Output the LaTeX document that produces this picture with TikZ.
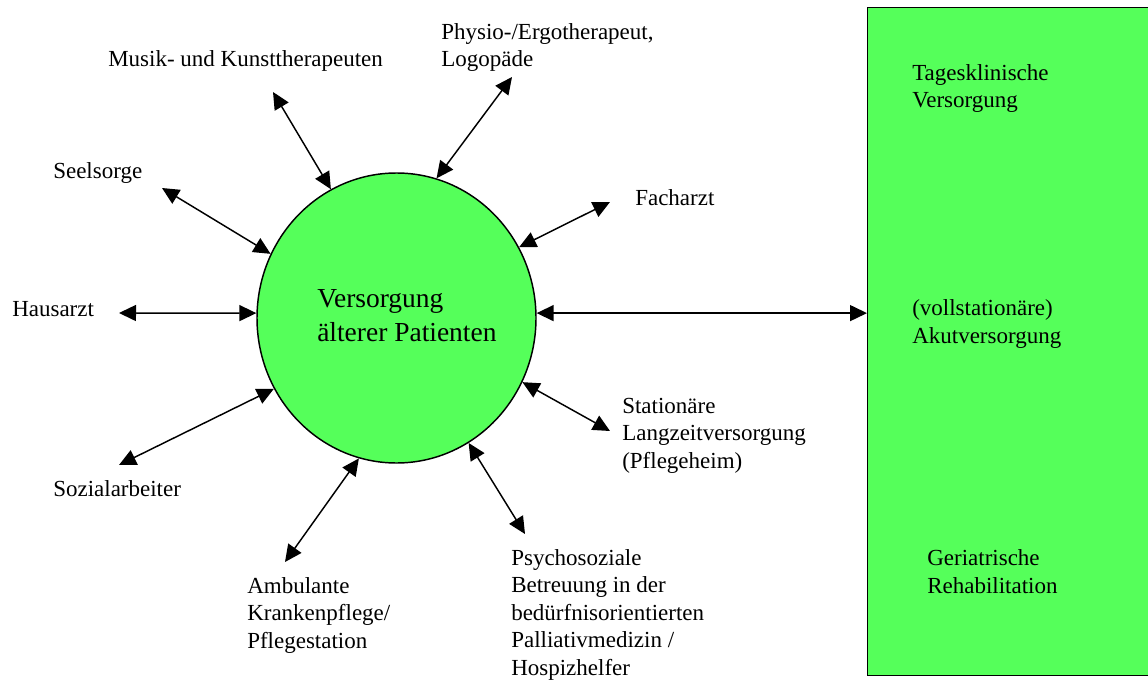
\documentclass[tikz,border=0pt]{standalone}
\usepackage{fontspec}
\setmainfont{Liberation Serif}
\usetikzlibrary{arrows.meta,shapes.geometric}
\definecolor{fillgreen}{RGB}{85,255,90}
\begin{document}
\begin{tikzpicture}[
    x=0.75pt, y=-0.75pt,
    lbl/.style={anchor=base west, inner sep=0pt, align=left, font=\fontsize{17.25}{20.6}\selectfont},
    bigtxt/.style={anchor=base west, inner sep=0pt, align=left, font=\fontsize{20.6}{25.5}\selectfont},
    link/.style={{Triangle[length=12.75pt,width=12pt]}-{Triangle[length=12.75pt,width=12pt]}, line width=1.1pt}
]
    \useasboundingbox (0,0) rectangle (1148,681);

    % Versorgungsbereiche rechts
    \node[draw, fill=fillgreen, line width=1.1pt, inner sep=0pt, anchor=north west,
          minimum width=219.75pt, minimum height=501pt] (klinik) at (867,7) {};
    \node[lbl] (tages) at (912,108) {Tagesklinische\\Versorgung};
    \node[lbl] (akut) at (912,343) {(vollstationäre)\\Akutversorgung};
    \node[lbl] (reha) at (927,593) {Geriatrische\\Rehabilitation};

    % Patient in der Mitte
    \node[ellipse, draw, fill=fillgreen, line width=1.1pt, inner sep=0pt,
          minimum width=209.25pt, minimum height=217.5pt] (pat) at (396.5,318) {};
    \node[bigtxt] (pattxt) at (317,341) {Versorgung\\älterer Patienten};

    % Beteiligte
    \node[lbl] (musik) at (108,67) {Musik- und Kunsttherapeuten};
    \node[lbl] (physio) at (441,67) {Physio-/Ergotherapeut,\\Logopäde};
    \node[lbl] (seel) at (53,178) {Seelsorge};
    \node[lbl] (fach) at (635,205) {Facharzt};
    \node[lbl] (haus) at (12,316) {Hausarzt};
    \node[lbl] (sozial) at (53,496) {Sozialarbeiter};
    \node[lbl] (station) at (622,468) {Stationäre\\Langzeitversorgung\\(Pflegeheim)};
    \node[lbl] (ambulant) at (247,648) {Ambulante\\Krankenpflege/\\Pflegestation};
    \node[lbl] (psycho) at (511,675) {Psychosoziale\\Betreuung in der\\bedürfnisorientierten\\Palliativmedizin /\\Hospizhelfer};

    \coordinate (musikend) at (273,92);
    \coordinate (physioend) at (512,77);
    \coordinate (seelend) at (162,188);
    \coordinate (fachend) at (610,202);
    \coordinate (hausend) at (119,313);
    \coordinate (sozialend) at (119,465);
    \coordinate (stationend) at (610,431);
    \coordinate (ambulantend) at (285,562);
    \coordinate (psychoend) at (525,534);

    \draw[link] (musikend) -- (pat.117);
    \draw[link] (physioend) -- (pat.74);
    \draw[link] (seelend) -- (pat.153);
    \draw[link] (fachend) -- (pat.30);
    \draw[link] (hausend) -- (pat.178);
    \draw[link] (sozialend) -- (pat.210);
    \draw[link] (stationend) -- (pat.333);
    \draw[link] (ambulantend) -- (pat.255);
    \draw[link] (psychoend) -- (pat.300);
    \draw[link] (pat.2) -- (pat.2 -| klinik.west);
\end{tikzpicture}
\end{document}
